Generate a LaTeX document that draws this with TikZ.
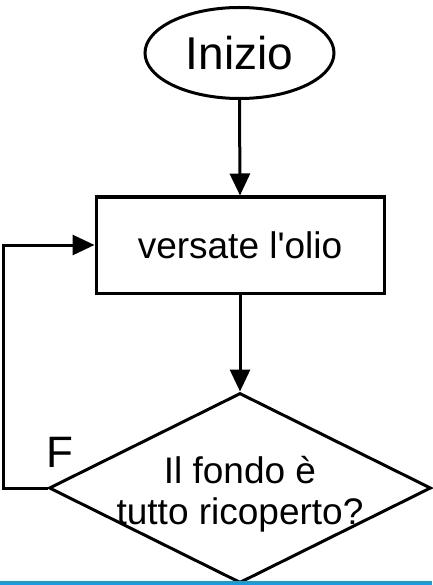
\documentclass[tikz,border=0pt]{standalone}
\usepackage{fontspec}
\setmainfont{Liberation Sans}[Ligatures=TeXOff]
\usetikzlibrary{shapes.geometric,arrows.meta}
\definecolor{edgeblue}{HTML}{1E9BD7}
\begin{document}
\begin{tikzpicture}[x=1pt,y=-1pt,
  line width=3pt,
  conn/.style={-{Triangle[length=22pt,width=20pt]}},
  startbox/.style={ellipse,draw,minimum width=189pt,minimum height=91pt,inner sep=0pt,font=\fontsize{46}{52}\selectfont},
  procbox/.style={rectangle,draw,minimum width=288pt,minimum height=96pt,inner sep=0pt,font=\fontsize{37}{42}\selectfont},
  decbox/.style={diamond,draw,minimum width=382pt,minimum height=190pt,inner sep=0pt},
  dectextstyle/.style={align=center,inner sep=0pt,font=\fontsize{37}{41}\selectfont},
  lbl/.style={inner sep=0pt,font=\fontsize{44}{50}\selectfont}]
\useasboundingbox (0,0) rectangle (432,585);
\node[startbox] (start) at (239.5,53) {Inizio};
\node[procbox] (proc) at (240,245) {versate l'olio};
\node[decbox] (dec) at (240,488) {};
\node[dectextstyle] (dectext) at (240,494) {Il fondo è\\tutto ricoperto?};
\node[lbl] (flabel) at (60,452) {F};
\coordinate (back) at (3,488);
\draw[conn] (start.south) -- (proc.north);
\draw[conn] (proc.south) -- (dec.north);
\draw[conn] (dec.west) -- (back) |- (proc.west);
\draw[edgeblue,line width=4pt] (0,583) -- (432,583);
\end{tikzpicture}
\end{document}
